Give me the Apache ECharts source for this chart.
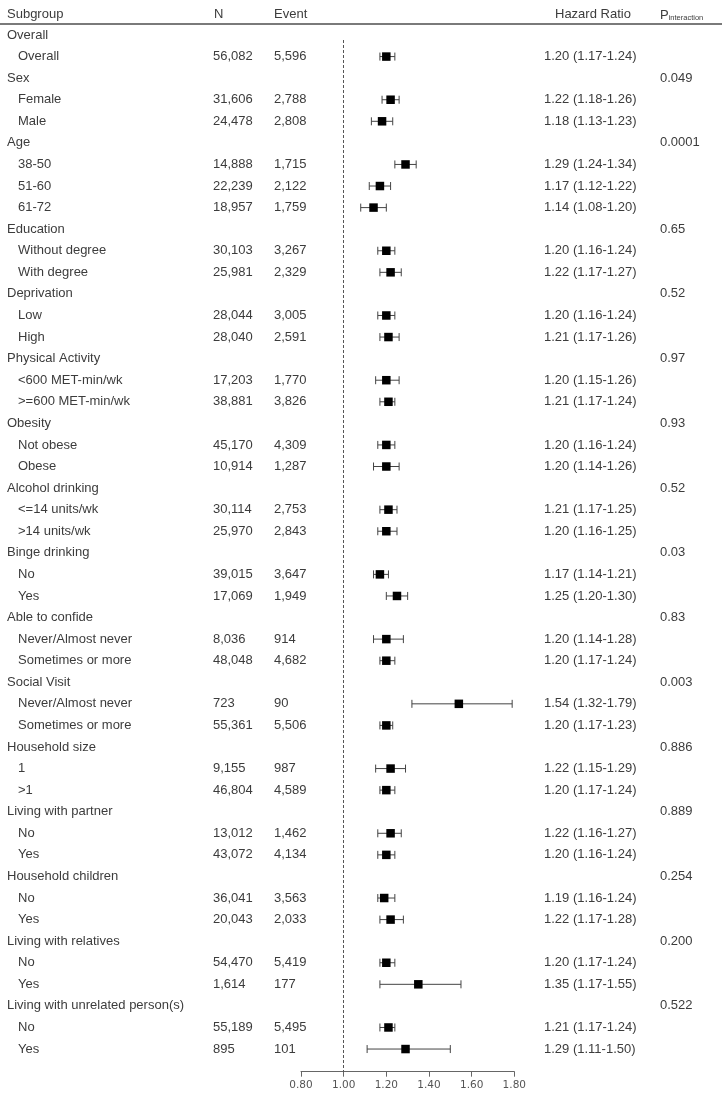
<!DOCTYPE html>
<html>
<head>
<meta charset="utf-8">
<script src="https://cdn.jsdelivr.net/npm/echarts@6/dist/echarts.min.js"></script>
<style>
html,body{margin:0;padding:0;background:#fff;}
#chart{width:722px;height:1106px;}
</style>
</head>
<body>
<div id="chart"></div>
<script>
// ---- Data ----
const groups = ['Overall','Sex','Age','Education','Deprivation','Physical Activity','Obesity','Alcohol drinking','Binge drinking','Able to confide','Social Visit','Household size','Living with partner','Household children','Living with relatives','Living with unrelated person(s)'];
const pInteraction = ['','0.049','0.0001','0.65','0.52','0.97','0.93','0.52','0.03','0.83','0.003','0.886','0.889','0.254','0.200','0.522'];
const groupSizes = [1,2,3,2,2,2,2,2,2,2,2,2,2,2,2,2];
const subgroups = ['Overall','Female','Male','38-50','51-60','61-72','Without degree','With degree','Low','High','<600 MET-min/wk','>=600 MET-min/wk','Not obese','Obese','<=14 units/wk','>14 units/wk','No','Yes','Never/Almost never','Sometimes or more','Never/Almost never','Sometimes or more','1','>1','No','Yes','No','Yes','No','Yes','No','Yes'];
const nValues = [56082,31606,24478,14888,22239,18957,30103,25981,28044,28040,17203,38881,45170,10914,30114,25970,39015,17069,8036,48048,723,55361,9155,46804,13012,43072,36041,20043,54470,1614,55189,895];
const eventValues = [5596,2788,2808,1715,2122,1759,3267,2329,3005,2591,1770,3826,4309,1287,2753,2843,3647,1949,914,4682,90,5506,987,4589,1462,4134,3563,2033,5419,177,5495,101];
const hr = [1.20,1.22,1.18,1.29,1.17,1.14,1.20,1.22,1.20,1.21,1.20,1.21,1.20,1.20,1.21,1.20,1.17,1.25,1.20,1.20,1.54,1.20,1.22,1.20,1.22,1.20,1.19,1.22,1.20,1.35,1.21,1.29];
const lower = [1.17,1.18,1.13,1.24,1.12,1.08,1.16,1.17,1.16,1.17,1.15,1.17,1.16,1.14,1.17,1.16,1.14,1.20,1.14,1.17,1.32,1.17,1.15,1.17,1.16,1.16,1.16,1.17,1.17,1.17,1.17,1.11];
const upper = [1.24,1.26,1.23,1.34,1.22,1.20,1.24,1.27,1.24,1.26,1.26,1.24,1.24,1.26,1.25,1.25,1.21,1.30,1.28,1.24,1.79,1.23,1.29,1.24,1.27,1.24,1.24,1.28,1.24,1.55,1.24,1.50];
const xTicks = [0.8, 1.0, 1.2, 1.4, 1.6, 1.8];

// ---- Build rows ----
const rows = []; // {type, label, gi, si}
let si = 0;
groups.forEach((g, gi) => {
  rows.push({type:'group', label:g, gi});
  for (let k = 0; k < groupSizes[gi]; k++) { rows.push({type:'item', label:subgroups[si], si}); si++; }
});
const ciData = [];
rows.forEach((r, i) => { if (r.type === 'item') ciData.push([i, hr[r.si], lower[r.si], upper[r.si]]); });

const fmt = v => v.toLocaleString('en-US');
const f2 = v => v.toFixed(2);

const chart = echarts.init(document.getElementById('chart'), null, {renderer:'canvas'});
const TXT = '#3c3c3c';
const FONT = '13px "Liberation Sans", Arial, sans-serif';

chart.setOption({
  animation: false,
  backgroundColor: '#fff',
  grid: {left: 301, right: 207.7, top: 40, bottom: 34.3},
  xAxis: {
    type: 'value', min: xTicks[0], max: xTicks[xTicks.length-1], interval: 0.2,
    axisLine: {show: true, lineStyle: {color: '#666', width: 1}},
    axisTick: {show: true, length: 5, lineStyle: {color: '#666'}},
    axisLabel: {formatter: v => v.toFixed(2), color: '#555', fontFamily: '"DejaVu Sans", Verdana, sans-serif', fontSize: 10.5, margin: 8},
    splitLine: {show: false}
  },
  yAxis: {
    type: 'value', inverse: true, min: 0.2318, max: 48.05, show: false
  },
  series: [{
    type: 'custom',
    clip: false,
    data: ciData,
    encode: {x: [1,2,3], y: 0},
    renderItem: function (params, api) {
      const row = api.value(0);
      const p = api.coord([api.value(1), row]);
      const l = api.coord([api.value(2), row]);
      const u = api.coord([api.value(3), row]);
      const cap = 4, sq = 8.5;
      const ls = {stroke: '#444', lineWidth: 1};
      return {
        type: 'group',
        children: [
          {type: 'line', shape: {x1: l[0], y1: p[1], x2: u[0], y2: p[1]}, style: ls},
          {type: 'line', shape: {x1: l[0], y1: p[1]-cap, x2: l[0], y2: p[1]+cap}, style: ls},
          {type: 'line', shape: {x1: u[0], y1: p[1]-cap, x2: u[0], y2: p[1]+cap}, style: ls},
          {type: 'rect', shape: {x: p[0]-sq/2, y: p[1]-sq/2, width: sq, height: sq}, style: {fill: '#000'}}
        ]
      };
    },
    markLine: {
      silent: true, symbol: 'none', label: {show: false},
      lineStyle: {color: '#555', type: [3, 2], width: 1},
      data: [{xAxis: 1.0}]
    }
  }]
});

// ---- Table text ----
const g = [];
function txt(x, y, text, extra) {
  g.push({type: 'text', x: x, y: y, silent: true,
    style: Object.assign({text: text, font: FONT, fill: TXT, textAlign: 'left', textVerticalAlign: 'middle', align: 'left', verticalAlign: 'middle'}, extra || {})});
}
const headerY = 14;
txt(7, headerY, 'Subgroup');
txt(214, headerY, 'N');
txt(274, headerY, 'Event');
txt(555, headerY, 'Hazard Ratio');
g.push({type: 'text', x: 660, y: headerY, silent: true,
  style: {text: '{p|P}{s|interaction}', fill: TXT, textVerticalAlign: 'middle', verticalAlign: 'middle',
    rich: {p: {fontSize: 13, fontFamily: '"Liberation Sans", Arial, sans-serif', fill: TXT, color: TXT, verticalAlign: 'bottom', lineHeight: 15},
           s: {fontSize: 7.5, fontFamily: '"Liberation Sans", Arial, sans-serif', fill: TXT, color: TXT, verticalAlign: 'bottom', lineHeight: 12}}}});
g.push({type: 'line', silent: true, shape: {x1: 0, y1: 24, x2: 722, y2: 24}, style: {stroke: '#7a7a7a', lineWidth: 2}});

rows.forEach((r, i) => {
  const y = chart.convertToPixel({yAxisIndex: 0}, i);
  if (r.type === 'group') {
    txt(7, y, r.label);
    if (pInteraction[r.gi]) txt(660, y, pInteraction[r.gi]);
  } else {
    txt(18, y, r.label);
    txt(213, y, fmt(nValues[r.si]));
    txt(274, y, fmt(eventValues[r.si]));
    txt(544, y, f2(hr[r.si]) + ' (' + f2(lower[r.si]) + '-' + f2(upper[r.si]) + ')');
  }
});
chart.setOption({graphic: {elements: g}});
</script>
</body>
</html>
